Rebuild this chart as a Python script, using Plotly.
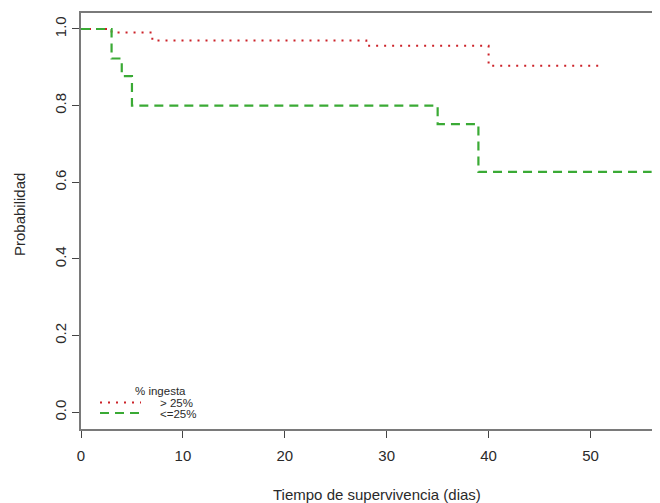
import plotly.graph_objects as go

# ---- data ----
t_high = [0, 3, 7, 28, 40, 51]
s_high = [1.0, 0.991, 0.970, 0.956, 0.904, 0.904]

t_low = [0, 3, 4, 5, 35, 39, 56]
s_low = [1.0, 0.923, 0.877, 0.800, 0.752, 0.627, 0.627]

legend_title = "% ingesta"
legend_labels = ["> 25%", "<=25%"]
x_ticks = [0, 10, 20, 30, 40, 50]
y_ticks = [0.0, 0.2, 0.4, 0.6, 0.8, 1.0]
y_tick_text = ["0.0", "0.2", "0.4", "0.6", "0.8", "1.0"]

RED = "#cc2229"
GREEN = "#3aaa35"
FONT = "Liberation Sans, Arial, sans-serif"
TXT = "#2a2a2a"
AXC = "#7a7a7a"

# the page body has an 8px margin, so the figure is offset by 8px
OFF = 8
W, H = 660 - OFF, 503 - OFF
PLOT_L, PLOT_T, PLOT_B = 81, 13, 429      # screen pixels of the plot area
ML, MR, MT, MB = PLOT_L - OFF, 0, PLOT_T - OFF, 503 - PLOT_B
PW, PH = W - ML - MR, H - MT - MB


def px(x):
    return (x - PLOT_L) / PW


def py(y):
    return (PLOT_B - y) / PH


fig = go.Figure()
fig.add_trace(go.Scatter(x=t_high, y=s_high, mode="lines", line_shape="hv",
                         line=dict(color=RED, width=2, dash="2px,6px"),
                         name=legend_labels[0], showlegend=False))
fig.add_trace(go.Scatter(x=t_low, y=s_low, mode="lines", line_shape="hv",
                         line=dict(color=GREEN, width=2.2, dash="9px,6px"),
                         name=legend_labels[1], showlegend=False))

# manual legend (compact like the reference)
shapes = [
    dict(type="line", xref="paper", yref="paper", x0=px(100), x1=px(141),
         y0=py(402.5), y1=py(402.5), line=dict(color=RED, width=2, dash="2px,6px")),
    dict(type="line", xref="paper", yref="paper", x0=px(100), x1=px(141),
         y0=py(413), y1=py(413), line=dict(color=GREEN, width=2.2, dash="9px,6px")),
]
LF = dict(family=FONT, size=11.5, color=TXT)
annotations = [
    dict(text=legend_title, xref="paper", yref="paper", x=px(160.5), y=py(391),
         xanchor="center", yanchor="middle", showarrow=False, font=LF),
    dict(text=legend_labels[0], xref="paper", yref="paper", x=px(158), y=py(403),
         xanchor="left", yanchor="middle", showarrow=False, font=LF),
    dict(text=legend_labels[1], xref="paper", yref="paper", x=px(158), y=py(414),
         xanchor="left", yanchor="middle", showarrow=False, font=LF),
    dict(text="Tiempo de supervivencia (dias)", xref="paper", yref="paper",
         x=px(377), y=py(494), xanchor="center", yanchor="middle", showarrow=False,
         font=dict(family=FONT, size=15, color=TXT)),
    dict(text="Probabilidad", xref="paper", yref="paper", x=px(19), y=py(215),
         xanchor="center", yanchor="middle", showarrow=False, textangle=-90,
         font=dict(family=FONT, size=15, color=TXT)),
]

fig.update_layout(
    width=W, height=H,
    margin=dict(l=ML, r=MR, t=MT, b=MB),
    paper_bgcolor="white", plot_bgcolor="white",
    showlegend=False,
    shapes=shapes, annotations=annotations,
    font=dict(family=FONT, size=15, color=TXT),
)
fig.update_xaxes(range=[0, PW / 10.19], tickmode="array", tickvals=x_ticks,
                 ticks="outside", ticklen=7, tickcolor="#444", tickwidth=1,
                 ticklabelstandoff=5,
                 showline=True, linecolor=AXC, linewidth=2, mirror=True,
                 showgrid=False, zeroline=False,
                 tickfont=dict(family=FONT, size=15, color=TXT))
fig.update_yaxes(range=[1.0417 - PH / 383.3, 1.0417], tickmode="array",
                 tickvals=y_ticks, ticktext=y_tick_text, tickangle=-90,
                 ticks="outside", ticklen=7, tickcolor="#444", tickwidth=1,
                 showline=True, linecolor=AXC, linewidth=2, mirror=False,
                 showgrid=False, zeroline=False,
                 tickfont=dict(family=FONT, size=15, color=TXT))

fig.write_html("out.html")
